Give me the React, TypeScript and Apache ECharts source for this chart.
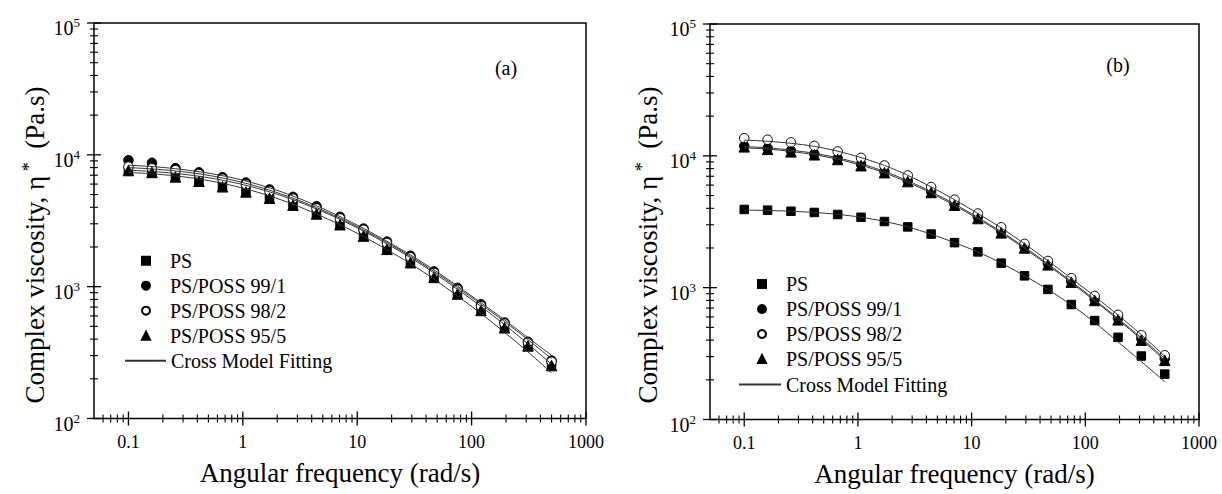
import React, { useEffect, useRef } from 'react';
import * as echarts from 'echarts';

// ---- data ----
const freq = [0.1, 0.1605, 0.2576, 0.4135, 0.6637, 1.065, 1.71, 2.745, 4.405, 7.07, 11.35, 18.2, 29.2, 46.9, 75.3, 120.9, 194, 311, 500];

const seriesNames = ['PS', 'PS/POSS 99/1', 'PS/POSS 98/2', 'PS/POSS 95/5'];
const fitName = 'Cross Model Fitting';

// panel (a)
const aPS = [7650, 7400, 6900, 6400, 5830, 5330, 4770, 4230, 3630, 3010, 2470, 1960, 1550, 1195, 895, 672, 497, 362, 262];
const a99 = [9100, 8700, 7930, 7370, 6780, 6170, 5470, 4800, 4080, 3390, 2760, 2200, 1715, 1305, 980, 735, 535, 382, 275];
const a98 = [8150, 7900, 7650, 7150, 6580, 5950, 5300, 4650, 3920, 3290, 2700, 2140, 1670, 1270, 950, 712, 525, 376, 270];
const a95 = [7600, 7350, 6800, 6300, 5720, 5230, 4680, 4150, 3560, 2950, 2420, 1920, 1520, 1175, 880, 660, 488, 355, 252];
const aFitPS = [7650, 7480, 7230, 6880, 6420, 5870, 5240, 4570, 3890, 3240, 2640, 2110, 1660, 1270, 955, 708, 515, 368, 258];
const aFit99 = [8350, 8150, 7850, 7450, 6950, 6330, 5620, 4870, 4110, 3400, 2770, 2210, 1740, 1340, 1010, 755, 560, 410, 302];
const aFit98 = [8000, 7820, 7550, 7180, 6680, 6080, 5400, 4690, 3980, 3310, 2700, 2160, 1700, 1305, 985, 735, 543, 396, 284];
const aFit95 = [7350, 7180, 6920, 6560, 6080, 5510, 4880, 4220, 3560, 2950, 2400, 1910, 1495, 1140, 850, 625, 450, 320, 222];

// panel (b)
const bPS = [3920, 3870, 3800, 3720, 3590, 3420, 3175, 2890, 2550, 2195, 1868, 1535, 1230, 970, 745, 563, 420, 303, 221];
const b99 = [11900, 11450, 10950, 10350, 9550, 8650, 7620, 6480, 5380, 4320, 3420, 2670, 2035, 1525, 1120, 815, 585, 412, 290];
const b98 = [13600, 13250, 12650, 11900, 10800, 9650, 8450, 7100, 5800, 4650, 3650, 2870, 2150, 1595, 1180, 865, 622, 436, 307];
const b95 = [11700, 11200, 10720, 10180, 9380, 8420, 7450, 6380, 5270, 4220, 3345, 2605, 2000, 1490, 1100, 800, 570, 400, 281];
const bFitPS = [3880, 3850, 3800, 3720, 3600, 3420, 3180, 2890, 2545, 2195, 1865, 1535, 1232, 968, 740, 545, 388, 275, 193];
const bFit99 = [11750, 11500, 11050, 10450, 9650, 8700, 7620, 6470, 5350, 4310, 3410, 2660, 2030, 1515, 1115, 812, 585, 416, 290];
const bFit98 = [13150, 12900, 12450, 11800, 10850, 9700, 8460, 7120, 5810, 4650, 3650, 2840, 2150, 1600, 1175, 860, 620, 440, 302];
const bFit95 = [11500, 11250, 10800, 10200, 9430, 8480, 7430, 6300, 5220, 4200, 3330, 2600, 1985, 1480, 1090, 794, 572, 405, 280];

// axes
const xMin = 0.05;
const xMax = 1000;
const yMin = 100;
const yMax = 100000;
const xMajorTicks = [0.1, 1, 10, 100, 1000];
const xTickLabels = ['0.1', '1', '10', '100', '1000'];
const xMinorTicks = [0.06, 0.07, 0.08, 0.09, 0.2, 0.3, 0.4, 0.5, 0.6, 0.7, 0.8, 0.9, 2, 3, 4, 5, 6, 7, 8, 9, 20, 30, 40, 50, 60, 70, 80, 90, 200, 300, 400, 500, 600, 700, 800, 900];
const yMajorTicks = [100, 1000, 10000, 100000];
const yTickExponents = ['2', '3', '4', '5'];
const yMinorTicks = [200, 300, 400, 500, 600, 700, 800, 900, 2000, 3000, 4000, 5000, 6000, 7000, 8000, 9000, 20000, 30000, 40000, 50000, 60000, 70000, 80000, 90000];

const FONT = 'Liberation Serif';

const panels = [
  { series: [aPS, a99, a98, a95], fits: [aFitPS, aFit99, aFit98, aFit95], tag: '(a)' },
  { series: [bPS, b99, b98, b95], fits: [bFitPS, bFit99, bFit98, bFit95], tag: '(b)' },
];

const grids = [
  { left: 94, top: 23, width: 492, height: 395.5 },
  { left: 710, top: 24, width: 489, height: 395.5 },
];

const symbols = [
  { symbol: 'rect', size: 8.5, color: '#000', border: '#000' },
  { symbol: 'circle', size: 9.5, color: '#000', border: '#000' },
  { symbol: 'circle', size: 9.5, color: '#fff', border: '#000' },
  { symbol: 'triangle', size: 10.5, color: '#000', border: '#000' },
];

const lg = Math.log10;

function findIdx(arr: number[], v: number) {
  return arr.findIndex((t) => Math.abs(lg(t) - v) < 1e-6);
}

const hiddenAxis = { axisLine: { show: false, onZero: false }, axisTick: { show: false }, axisLabel: { show: false }, splitLine: { show: false } };

export default function App() {
  const ref = useRef<HTMLDivElement>(null);

  useEffect(() => {
    if (!ref.current) return;
    const chart = echarts.init(ref.current, undefined, { renderer: 'svg' });

    const xAxis: any[] = [];
    const yAxis: any[] = [];
    const series: any[] = [];
    const panelSeriesIndex: number[] = [];

    grids.forEach((_g, p) => {
      const xi = xAxis.length;
      xAxis.push({ type: 'log', logBase: 10, gridIndex: p, min: xMin, max: xMax, ...hiddenAxis });
      xAxis.push({
        type: 'value', gridIndex: p, min: lg(xMin), max: lg(xMax), position: 'bottom',
        axisLine: { show: false, onZero: false }, splitLine: { show: false }, axisTick: { show: false },
        axisLabel: {
          show: true, customValues: xMajorTicks.map(lg), margin: 14, fontSize: 18, fontFamily: FONT, color: '#000',
          formatter: (v: number) => xTickLabels[findIdx(xMajorTicks, v)] ?? '',
        },
        name: 'Angular frequency (rad/s)', nameLocation: 'middle', nameGap: 41,
        nameTextStyle: { fontSize: 27, fontFamily: FONT, color: '#000' },
      });
      const yi = yAxis.length;
      yAxis.push({ type: 'log', logBase: 10, gridIndex: p, min: yMin, max: yMax, ...hiddenAxis });
      yAxis.push({
        type: 'value', gridIndex: p, min: lg(yMin), max: lg(yMax), position: 'left',
        axisLine: { show: false, onZero: false }, splitLine: { show: false }, axisTick: { show: false },
        axisLabel: {
          show: true, customValues: yMajorTicks.map(lg), margin: 14, color: '#000',
          padding: [8, 0, 0, 0],
          formatter: (v: number) => `{b|10}{s|${yTickExponents[findIdx(yMajorTicks, v)] ?? ''}}`,
          rich: {
            b: { fontSize: 20, fontFamily: FONT, color: '#000', lineHeight: 22, verticalAlign: 'bottom' },
            s: { fontSize: 13, fontFamily: FONT, color: '#000', verticalAlign: 'top', lineHeight: 13 },
          },
        },
      });

      const panel = panels[p];
      panelSeriesIndex.push(series.length);
      panel.series.forEach((vals, k) => {
        const s = symbols[k];
        series.push({
          type: 'scatter', name: seriesNames[k], xAxisIndex: xi, yAxisIndex: yi,
          symbol: s.symbol, symbolSize: s.size, z: 2,
          itemStyle: { color: s.color, borderColor: s.border, borderWidth: 1, opacity: 1 },
          data: freq.map((f, i) => [f, vals[i]]),
        });
      });
      panel.fits.forEach((vals) => {
        series.push({
          type: 'line', name: fitName, xAxisIndex: xi, yAxisIndex: yi,
          symbol: 'none', showSymbol: false, smooth: 0.3, z: 3,
          lineStyle: { color: '#333', width: 1 },
          itemStyle: { color: '#333' },
          data: freq.map((f, i) => [f, vals[i]]),
        });
      });
    });

    const legendText = { fontSize: 20, fontFamily: FONT, color: '#000', lineHeight: 20 };
    const markerLegend = (left: number, top: number) => ({
      orient: 'vertical', left, top, itemWidth: 8, itemHeight: 8, itemGap: 5, selectedMode: false,
      data: seriesNames,
      textStyle: { ...legendText, padding: [0, 0, 0, 15] },
    });
    const lineLegend = (left: number, top: number, w: number) => ({
      orient: 'vertical', left, top, itemWidth: w, itemHeight: 2, itemGap: 5, selectedMode: false,
      data: [{ name: fitName, itemStyle: { opacity: 0 } }],
      textStyle: legendText,
    });

    const yTitle = (x: number, y: number) => ({
      type: 'text', x, y, rotation: Math.PI / 2,
      style: {
        text: '{a|Complex viscosity, η}{s| *}{a|  (Pa.s)}',
        rich: {
          a: { fontSize: 27, fontFamily: FONT, fill: '#000', lineHeight: 30 },
          s: { fontSize: 18, fontFamily: FONT, fill: '#000', verticalAlign: 'top', lineHeight: 18 },
        },
        align: 'center', verticalAlign: 'middle', fill: '#000',
      },
    });

    const baseGraphics: any[] = [
      yTitle(35, 245),
      yTitle(648, 245),
      { type: 'text', x: 506, y: 68, style: { text: panels[0].tag, fontSize: 20, fontFamily: FONT, fill: '#000', align: 'center', verticalAlign: 'middle' } },
      { type: 'text', x: 1118, y: 65, style: { text: panels[1].tag, fontSize: 20, fontFamily: FONT, fill: '#000', align: 'center', verticalAlign: 'middle' } },
    ];

    chart.setOption({
      animation: false,
      backgroundColor: '#fff',
      textStyle: { fontFamily: FONT },
      grid: grids.map((g) => ({ ...g, show: true, borderColor: '#000', borderWidth: 1.5, backgroundColor: 'transparent' })),
      xAxis, yAxis, series,
      legend: [
        markerLegend(136, 245.7),
        lineLegend(119, 345.7, 41),
        markerLegend(752, 269),
        lineLegend(733, 369.5, 42),
      ],
      graphic: baseGraphics,
    });

    // tick marks positioned through the chart's own log scales (outward and inward)
    const ticks: any[] = [];
    const tickLine = (x1: number, y1: number, x2: number, y2: number, w: number) => ({
      type: 'line', z: 100, silent: true,
      shape: { x1, y1, x2, y2 },
      style: { stroke: '#000', lineWidth: w },
    });
    const MAJ = 7;
    const MIN = 4;
    panelSeriesIndex.forEach((si) => {
      const toPx = (v: number[]) => chart.convertToPixel({ seriesIndex: si }, v) as number[];
      xMajorTicks.forEach((v) => { const pt = toPx([v, yMin]); ticks.push(tickLine(pt[0], pt[1] - MAJ, pt[0], pt[1] + MAJ, 1.3)); });
      xMinorTicks.forEach((v) => { const pt = toPx([v, yMin]); ticks.push(tickLine(pt[0], pt[1] - MIN, pt[0], pt[1] + MIN, 1.1)); });
      yMajorTicks.forEach((v) => { const pt = toPx([xMin, v]); ticks.push(tickLine(pt[0] - MAJ, pt[1], pt[0] + MAJ, pt[1], 1.3)); });
      yMinorTicks.forEach((v) => { const pt = toPx([xMin, v]); ticks.push(tickLine(pt[0] - MIN, pt[1], pt[0] + MIN, pt[1], 1.1)); });
    });
    chart.setOption({ graphic: [...baseGraphics, ...ticks] });

    return () => chart.dispose();
  }, []);

  return <div ref={ref} style={{ position: 'absolute', left: 0, top: 0, width: 1222, height: 494 }} />;
}
